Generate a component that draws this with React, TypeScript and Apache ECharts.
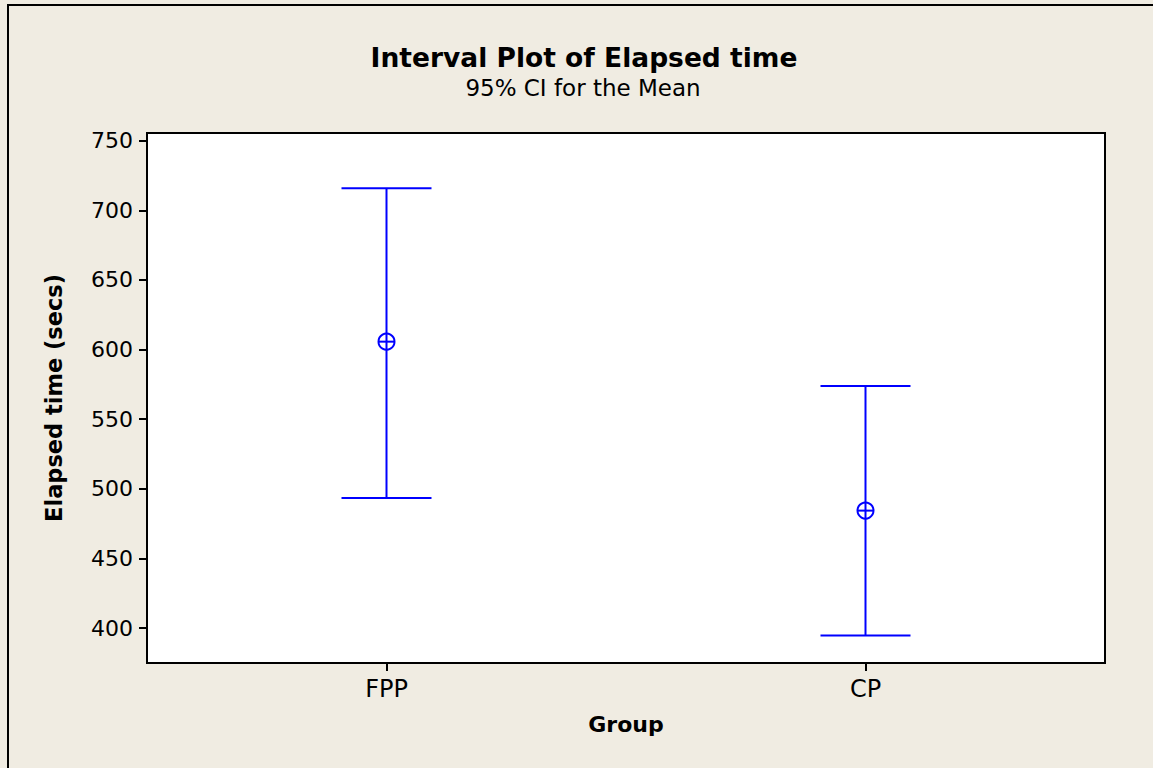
import React, { useEffect, useRef } from "react";
import * as echarts from "echarts";

const categories = ["FPP", "CP"];
const means = [605.7, 484.4];
const lower = [493.5, 394.7];
const upper = [715.8, 573.9];
const yTicks = [400, 450, 500, 550, 600, 650, 700, 750];

const FONT = "'DejaVu Sans', sans-serif";
const BLUE = "#0000FF";

export default function App() {
  const ref = useRef<HTMLDivElement>(null);
  useEffect(() => {
    document.body.style.margin = "0";
    const chart = echarts.init(ref.current!, null, { renderer: "svg" });
    const data = categories.map((c, i) => [i, means[i], lower[i], upper[i]]);
    chart.setOption({
      animation: false,
      backgroundColor: "#F0ECE2",
      graphic: [
        {
          type: "rect",
          shape: { x: 8, y: 5, width: 1300, height: 900 },
          style: { fill: "none", stroke: "#000", lineWidth: 2 },
          silent: true,
        },
        {
          type: "text",
          x: 584,
          y: 57,
          style: {
            text: "Interval Plot of Elapsed time",
            font: `bold 26.5px ${FONT}`,
            fill: "#000",
            textAlign: "center",
            textVerticalAlign: "middle",
          },
        },
        {
          type: "text",
          x: 583,
          y: 88,
          style: {
            text: "95% CI for the Mean",
            font: `23px ${FONT}`,
            fill: "#000",
            textAlign: "center",
            textVerticalAlign: "middle",
          },
        },
      ],
      grid: {
        left: 147,
        top: 133,
        width: 958,
        height: 530,
        show: true,
        backgroundColor: "#fff",
        borderColor: "#000",
        borderWidth: 2,
      },
      xAxis: {
        type: "category",
        data: categories,
        boundaryGap: true,
        name: "Group",
        nameLocation: "middle",
        nameGap: 50,
        nameTextStyle: { fontFamily: FONT, fontWeight: "bold", fontSize: 22, color: "#000" },
        axisLine: { show: true, lineStyle: { color: "#000", width: 2 } },
        axisTick: { show: true, alignWithLabel: true, length: 8, lineStyle: { color: "#000", width: 2 } },
        axisLabel: { fontFamily: FONT, fontSize: 24, color: "#000", margin: 14 },
        splitLine: { show: false },
      },
      yAxis: {
        type: "value",
        min: 375,
        max: 755.5,
        name: "Elapsed time (secs)",
        nameLocation: "middle",
        nameGap: 82,
        nameTextStyle: { fontFamily: FONT, fontWeight: "bold", fontSize: 22.5, color: "#000" },
        axisLine: { show: true, lineStyle: { color: "#000", width: 2 } },
        axisTick: { show: true, length: 8, customValues: yTicks, lineStyle: { color: "#000", width: 2 } },
        axisLabel: { fontFamily: FONT, fontSize: 22, color: "#000", margin: 14, customValues: yTicks },
        splitLine: { show: false },
      },
      series: [
        {
          type: "custom",
          data,
          renderItem: (params: any, api: any) => {
            const x = api.value(0);
            const m = api.coord([x, api.value(1)]);
            const lo = api.coord([x, api.value(2)]);
            const hi = api.coord([x, api.value(3)]);
            const half = 45;
            const r = 8;
            const style = { stroke: BLUE, lineWidth: 2, fill: "none" };
            return {
              type: "group",
              children: [
                { type: "line", shape: { x1: hi[0], y1: hi[1], x2: lo[0], y2: lo[1] }, style },
                { type: "line", shape: { x1: hi[0] - half, y1: hi[1], x2: hi[0] + half, y2: hi[1] }, style },
                { type: "line", shape: { x1: lo[0] - half, y1: lo[1], x2: lo[0] + half, y2: lo[1] }, style },
                { type: "circle", shape: { cx: m[0], cy: m[1], r }, style },
                { type: "line", shape: { x1: m[0] - r, y1: m[1], x2: m[0] + r, y2: m[1] }, style },
              ],
            };
          },
        },
      ],
    });
    return () => chart.dispose();
  }, []);
  return <div ref={ref} style={{ width: 1153, height: 768 }} />;
}
